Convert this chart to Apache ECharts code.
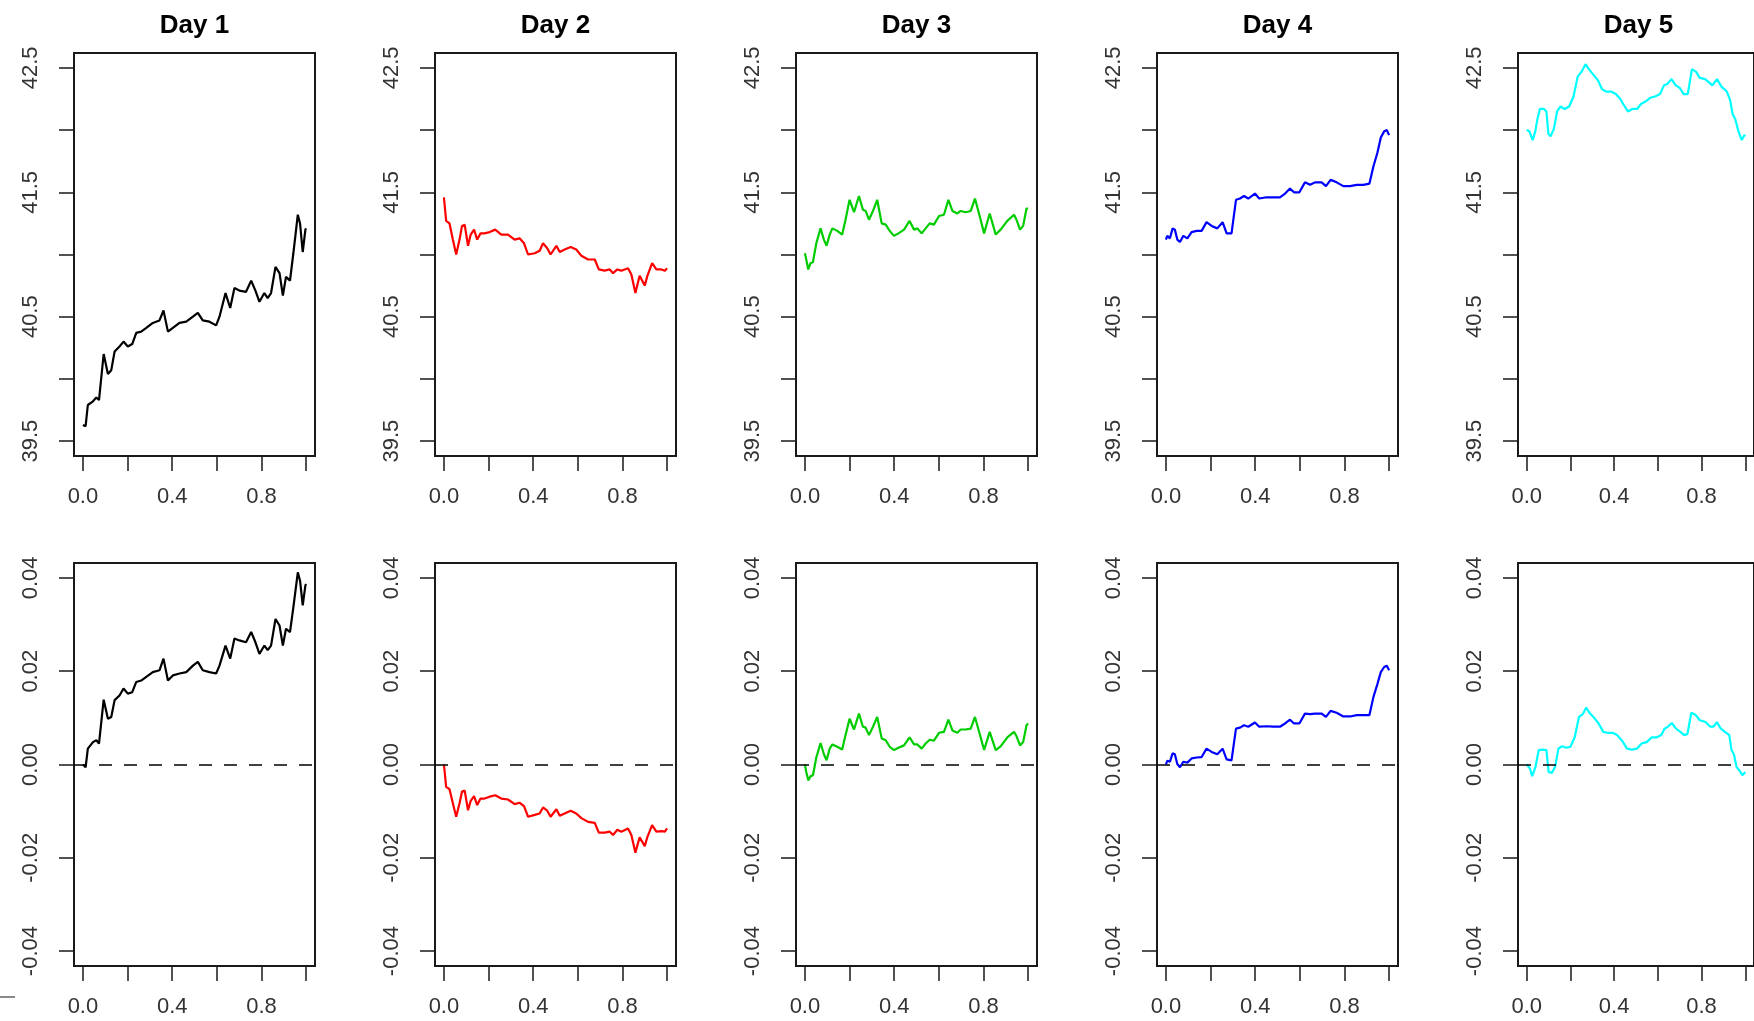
<!DOCTYPE html>
<html>
<head>
<meta charset="utf-8">
<title>Day 1 - Day 5</title>
<script src="https://cdn.jsdelivr.net/npm/echarts@6.0.0/dist/echarts.min.js"></script>
<style>
  html, body { margin: 0; padding: 0; background: #fff; }
  #chart { width: 1754px; height: 1021px; }
</style>
</head>
<body>
<div id="chart"></div>
<script>
// ---- data ----
var days = ['Day 1', 'Day 2', 'Day 3', 'Day 4', 'Day 5'];
var lineColors = ['#000000', '#ff0000', '#00cd00', '#0000ff', '#00ffff'];

var xTicks = [0, 0.2, 0.4, 0.6, 0.8, 1.0];
var xTickLabels = [0, 0.4, 0.8];
var priceTicks = [39.5, 40, 40.5, 41, 41.5, 42, 42.5];
var priceTickLabels = [39.5, 40.5, 41.5, 42.5];
var returnTicks = [-0.04, -0.02, 0, 0.02, 0.04];

var day1Time = [0.000,0.012,0.022,0.045,0.060,0.072,0.093,0.112,0.127,0.142,0.164,0.182,0.201,0.221,0.239,0.261,0.284,0.313,0.343,0.361,0.381,0.403,0.433,0.463,0.493,0.515,0.537,0.567,0.597,0.612,0.639,0.660,0.679,0.701,0.731,0.754,0.773,0.791,0.813,0.828,0.843,0.863,0.881,0.896,0.910,0.928,0.943,0.963,0.973,0.985,0.997,1.000];
var day1Price = [39.63,39.62,39.79,39.82,39.85,39.83,40.20,40.04,40.07,40.22,40.26,40.30,40.26,40.28,40.37,40.38,40.41,40.45,40.47,40.55,40.38,40.41,40.45,40.46,40.50,40.53,40.47,40.46,40.43,40.50,40.69,40.57,40.73,40.71,40.70,40.79,40.71,40.62,40.69,40.65,40.69,40.90,40.85,40.67,40.82,40.79,41.01,41.32,41.25,41.02,41.20,41.21];
var day1Return = [0.0000,-0.0006,0.0034,0.0048,0.0052,0.0045,0.0139,0.0098,0.0102,0.0138,0.0148,0.0163,0.0152,0.0155,0.0177,0.0180,0.0188,0.0198,0.0202,0.0227,0.0180,0.0191,0.0195,0.0198,0.0212,0.0220,0.0202,0.0198,0.0195,0.0212,0.0255,0.0227,0.0270,0.0266,0.0262,0.0284,0.0262,0.0237,0.0255,0.0245,0.0255,0.0312,0.0298,0.0255,0.0291,0.0284,0.0337,0.0412,0.0394,0.0341,0.0384,0.0387];

var day2Time = [0.000,0.010,0.025,0.040,0.055,0.070,0.081,0.093,0.108,0.120,0.135,0.149,0.164,0.182,0.205,0.230,0.257,0.287,0.317,0.339,0.359,0.377,0.407,0.429,0.444,0.463,0.478,0.504,0.519,0.541,0.568,0.593,0.616,0.646,0.676,0.694,0.720,0.743,0.758,0.777,0.795,0.825,0.840,0.858,0.877,0.900,0.912,0.933,0.952,0.975,0.990,1.000];
var day2Price = [41.46,41.27,41.25,41.12,41.00,41.12,41.23,41.24,41.07,41.16,41.20,41.12,41.17,41.17,41.18,41.20,41.16,41.16,41.12,41.13,41.09,41.00,41.01,41.03,41.09,41.05,41.00,41.07,41.02,41.04,41.06,41.04,40.99,40.96,40.96,40.88,40.87,40.88,40.85,40.88,40.87,40.89,40.84,40.69,40.83,40.75,40.83,40.93,40.88,40.88,40.87,40.89];
var day2Return = [0.0000,-0.0048,-0.0053,-0.0083,-0.0112,-0.0083,-0.0058,-0.0056,-0.0098,-0.0078,-0.0068,-0.0087,-0.0073,-0.0073,-0.0069,-0.0066,-0.0073,-0.0075,-0.0085,-0.0082,-0.0089,-0.0112,-0.0108,-0.0105,-0.0092,-0.0099,-0.0112,-0.0096,-0.0110,-0.0105,-0.0099,-0.0105,-0.0115,-0.0123,-0.0125,-0.0146,-0.0146,-0.0144,-0.0151,-0.0140,-0.0144,-0.0137,-0.0151,-0.0189,-0.0156,-0.0175,-0.0155,-0.0130,-0.0144,-0.0143,-0.0144,-0.0137];

var day3Time = [0.000,0.006,0.015,0.025,0.036,0.051,0.070,0.085,0.097,0.111,0.123,0.145,0.167,0.182,0.200,0.220,0.242,0.260,0.272,0.287,0.305,0.324,0.344,0.362,0.380,0.399,0.419,0.444,0.469,0.489,0.504,0.523,0.541,0.559,0.578,0.601,0.623,0.643,0.661,0.683,0.698,0.720,0.743,0.762,0.783,0.803,0.828,0.855,0.877,0.907,0.937,0.948,0.964,0.978,0.993,1.000];
var day3Price = [41.01,40.96,40.88,40.93,40.94,41.09,41.21,41.12,41.07,41.16,41.21,41.19,41.16,41.28,41.44,41.34,41.47,41.36,41.35,41.28,41.35,41.44,41.25,41.24,41.19,41.15,41.17,41.20,41.27,41.20,41.21,41.17,41.21,41.25,41.24,41.31,41.32,41.44,41.35,41.33,41.35,41.34,41.35,41.45,41.31,41.17,41.33,41.16,41.20,41.27,41.32,41.28,41.20,41.23,41.37,41.37];
var day3Return = [0.0000,-0.0016,-0.0034,-0.0025,-0.0023,0.0015,0.0046,0.0022,0.0009,0.0034,0.0043,0.0038,0.0032,0.0063,0.0098,0.0075,0.0109,0.0081,0.0079,0.0063,0.0081,0.0102,0.0056,0.0052,0.0038,0.0031,0.0036,0.0041,0.0058,0.0043,0.0043,0.0034,0.0045,0.0053,0.0051,0.0068,0.0070,0.0096,0.0073,0.0068,0.0075,0.0075,0.0077,0.0102,0.0066,0.0031,0.0070,0.0031,0.0039,0.0058,0.0070,0.0061,0.0041,0.0048,0.0084,0.0088];

var day4Time = [0.000,0.006,0.018,0.030,0.040,0.051,0.063,0.078,0.096,0.115,0.138,0.160,0.182,0.205,0.230,0.254,0.272,0.294,0.314,0.332,0.350,0.369,0.399,0.418,0.451,0.481,0.511,0.534,0.556,0.574,0.598,0.623,0.646,0.668,0.698,0.717,0.738,0.765,0.795,0.825,0.855,0.885,0.912,0.930,0.948,0.963,0.978,0.990,1.000];
var day4Price = [41.12,41.15,41.13,41.21,41.20,41.12,41.10,41.15,41.13,41.18,41.19,41.19,41.26,41.23,41.21,41.26,41.17,41.17,41.44,41.45,41.47,41.45,41.49,41.45,41.46,41.46,41.46,41.49,41.53,41.50,41.50,41.58,41.56,41.58,41.58,41.55,41.60,41.58,41.55,41.55,41.56,41.56,41.57,41.71,41.82,41.94,41.99,42.00,41.96];
var day4Return = [0.0000,0.0008,0.0006,0.0024,0.0022,0.0001,-0.0006,0.0006,0.0004,0.0013,0.0015,0.0016,0.0034,0.0027,0.0022,0.0034,0.0011,0.0009,0.0077,0.0079,0.0084,0.0081,0.0090,0.0081,0.0082,0.0081,0.0081,0.0088,0.0096,0.0088,0.0088,0.0109,0.0108,0.0109,0.0109,0.0102,0.0115,0.0111,0.0103,0.0103,0.0106,0.0106,0.0106,0.0145,0.0173,0.0198,0.0209,0.0212,0.0202];

var day5PriceTime = [0.000,0.012,0.027,0.039,0.049,0.060,0.079,0.090,0.099,0.109,0.124,0.139,0.154,0.173,0.194,0.214,0.233,0.251,0.269,0.284,0.303,0.326,0.344,0.363,0.386,0.408,0.428,0.445,0.463,0.483,0.505,0.523,0.543,0.565,0.587,0.610,0.628,0.643,0.662,0.682,0.700,0.718,0.737,0.756,0.774,0.792,0.816,0.837,0.849,0.871,0.891,0.916,0.931,0.942,0.954,0.969,0.984,0.996,1.000];
var day5Price = [42.00,41.99,41.92,41.99,42.09,42.17,42.17,42.15,41.97,41.95,42.01,42.15,42.19,42.17,42.19,42.27,42.43,42.47,42.53,42.49,42.45,42.40,42.33,42.31,42.31,42.29,42.25,42.20,42.15,42.17,42.17,42.21,42.23,42.26,42.27,42.29,42.36,42.37,42.41,42.36,42.34,42.29,42.29,42.49,42.47,42.42,42.41,42.38,42.36,42.41,42.35,42.31,42.24,42.13,42.09,41.99,41.92,41.96,41.95];
var day5ReturnTime = [0.000,0.015,0.025,0.040,0.055,0.070,0.090,0.100,0.115,0.130,0.145,0.160,0.182,0.200,0.220,0.239,0.257,0.272,0.287,0.305,0.329,0.350,0.369,0.392,0.414,0.436,0.459,0.481,0.504,0.526,0.549,0.571,0.593,0.616,0.631,0.646,0.664,0.683,0.703,0.720,0.735,0.753,0.773,0.792,0.818,0.840,0.855,0.870,0.888,0.907,0.927,0.937,0.948,0.960,0.975,0.987,1.000];
var day5Return = [0.0000,-0.0009,-0.0025,-0.0005,0.0031,0.0032,0.0031,-0.0016,-0.0018,-0.0005,0.0034,0.0039,0.0036,0.0038,0.0059,0.0102,0.0108,0.0122,0.0111,0.0102,0.0088,0.0070,0.0068,0.0068,0.0063,0.0051,0.0034,0.0032,0.0034,0.0045,0.0048,0.0058,0.0058,0.0063,0.0077,0.0081,0.0089,0.0077,0.0070,0.0063,0.0065,0.0111,0.0106,0.0095,0.0091,0.0081,0.0081,0.0091,0.0077,0.0070,0.0063,0.0031,0.0022,-0.0005,-0.0014,-0.0023,-0.0016];

var priceRows = [[day1Time, day1Price], [day2Time, day2Price], [day3Time, day3Price], [day4Time, day4Price], [day5PriceTime, day5Price]];
var returnRows = [[day1Time, day1Return], [day2Time, day2Return], [day3Time, day3Return], [day4Time, day4Return], [day5ReturnTime, day5Return]];

// ---- layout ----
var boxLefts = [74, 435, 796, 1157, 1518];
var boxWidth = 241;
var boxHeight = 403;
var rowTops = [53, 563];
var frameColor = '#1a1a1a';
var labelFont = 'Liberation Sans, Arial, sans-serif';

function zip(t, v) {
  var out = [];
  for (var i = 0; i < t.length; i++) out.push([t[i], v[i]]);
  return out;
}
function oneDecimal(v) { return Number(v).toFixed(1); }
function twoDecimals(v) { return Number(v).toFixed(2); }

var grids = [], xAxes = [], yAxes = [], series = [], titles = [];

for (var r = 0; r < 2; r++) {
  var isPriceRow = (r === 0);
  for (var d = 0; d < 5; d++) {
    var idx = r * 5 + d;
    grids.push({
      left: boxLefts[d], top: rowTops[r], width: boxWidth, height: boxHeight,
      show: true, borderColor: frameColor, borderWidth: 2, backgroundColor: 'transparent'
    });
    xAxes.push({
      type: 'value', gridIndex: idx, min: -0.04, max: 1.04,
      axisLine: { show: false, onZero: false },
      splitLine: { show: false },
      axisTick: { show: true, length: 15, customValues: xTicks, lineStyle: { color: frameColor, width: 1.5 } },
      axisLabel: {
        customValues: xTickLabels, margin: 30, fontSize: 22, color: '#333', fontFamily: labelFont,
        formatter: oneDecimal
      }
    });
    yAxes.push({
      type: 'value', gridIndex: idx,
      min: isPriceRow ? 39.38 : -0.0432, max: isPriceRow ? 42.62 : 0.0432,
      axisLine: { show: false, onZero: false },
      splitLine: { show: false },
      axisTick: { show: true, length: 15, customValues: isPriceRow ? priceTicks : returnTicks, lineStyle: { color: frameColor, width: 1.5 } },
      axisLabel: {
        customValues: isPriceRow ? priceTickLabels : returnTicks, rotate: 90, margin: 32,
        fontSize: 22, color: '#333', fontFamily: labelFont,
        formatter: isPriceRow ? oneDecimal : twoDecimals
      }
    });
    var src = isPriceRow ? priceRows[d] : returnRows[d];
    var s = {
      type: 'line', xAxisIndex: idx, yAxisIndex: idx,
      data: zip(src[0], src[1]),
      showSymbol: false, symbol: 'none', silent: true,
      lineStyle: { color: lineColors[d], width: 2.2 },
      itemStyle: { color: lineColors[d] },
      z: 3
    };
    if (!isPriceRow) {
      s.markLine = {
        silent: true, symbol: ['none', 'none'], label: { show: false },
        lineStyle: { color: '#000', type: [13, 12], width: 1.5 },
        data: [{ yAxis: 0 }]
      };
    }
    series.push(s);
  }
}

for (var k = 0; k < 5; k++) {
  titles.push({
    text: days[k], left: boxLefts[k] + boxWidth / 2, top: 13, textAlign: 'center', padding: 0,
    textStyle: { fontSize: 26, fontWeight: 'bold', color: '#000', fontFamily: labelFont }
  });
}

var chart = echarts.init(document.getElementById('chart'), null, { renderer: 'canvas' });
chart.setOption({
  backgroundColor: '#fff',
  animation: false,
  title: titles,
  grid: grids,
  xAxis: xAxes,
  yAxis: yAxes,
  series: series,
  graphic: [
    // small grey stroke at the lower-left edge of the original
    { type: 'rect', left: 0, top: 996, shape: { width: 15, height: 2 }, style: { fill: '#8a8a8a' }, silent: true }
  ]
});
</script>
</body>
</html>
